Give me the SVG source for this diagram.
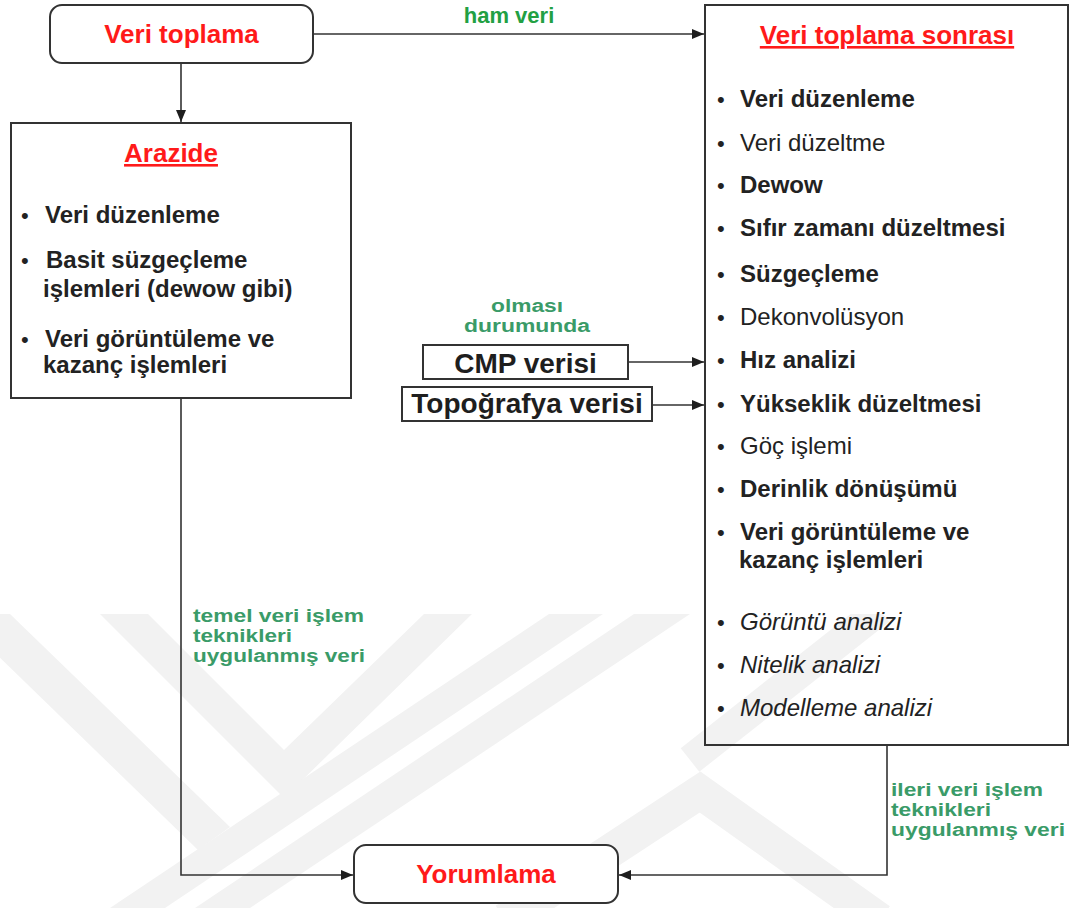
<svg xmlns="http://www.w3.org/2000/svg" width="1072" height="908" viewBox="0 0 1072 908">
<style>
.box{fill:none;stroke:#333;stroke-width:2}
.rbox{fill:#fff;stroke:#333;stroke-width:2}
.con{fill:none;stroke:#333;stroke-width:1.6}
.title{font-family:"Liberation Sans",Arial,sans-serif;font-weight:bold;font-size:26px;fill:#ff1a1a}
.b{font-family:"Liberation Sans",Arial,sans-serif;font-weight:bold;font-size:24px;fill:#222}
.r{font-family:"Liberation Sans",Arial,sans-serif;font-size:24px;fill:#222}
.i{font-family:"Liberation Sans",Arial,sans-serif;font-style:italic;font-size:24px;fill:#222}
.dot{font-family:"Liberation Sans",Arial,sans-serif;font-size:22px;fill:#222}
.g{font-family:"Liberation Sans",Arial,sans-serif;font-weight:bold;font-size:17.5px;fill:#3a9b68}
.big{font-family:"Liberation Sans",Arial,sans-serif;font-weight:bold;font-size:28px;fill:#1e1e1e}
.wm{fill:#f2f2f2}
</style>
<defs>
<marker id="arr" markerWidth="12" markerHeight="10" refX="12" refY="5" orient="auto" markerUnits="userSpaceOnUse">
<path d="M0,0 L12,5 L0,10 z" fill="#1e1e1e"/>
</marker>
<clipPath id="wmclip"><rect x="0" y="614" width="1072" height="294"/></clipPath>
</defs>
<rect x="0" y="0" width="1072" height="908" fill="#fff"/>
<g id="watermark" clip-path="url(#wmclip)">
<polygon class="wm" points="-45,614 10,614 230,827 198,850"/>
<polygon class="wm" points="100,614 148,614 284,750 424,614 472,614 284,798"/>
<polygon class="wm" points="549,614 603,614 165,908 110,908"/>
<polygon class="wm" points="634,614 690,614 250,908 195,908"/>
<polyline points="505,920 700,792 880,920" fill="none" stroke="#f2f2f2" stroke-width="34"/>
<line x1="690" y1="760" x2="880" y2="610" stroke="#f2f2f2" stroke-width="30"/>
</g>
<g id="connectors">
<line class="con" x1="181" y1="63" x2="181" y2="122" marker-end="url(#arr)"/>
<line class="con" x1="313" y1="34" x2="704" y2="34" marker-end="url(#arr)"/>
<line class="con" x1="628" y1="362" x2="704" y2="362" marker-end="url(#arr)"/>
<line class="con" x1="652" y1="405" x2="704" y2="405" marker-end="url(#arr)"/>
<polyline class="con" points="181,398 181,875 353,875" marker-end="url(#arr)"/>
<polyline class="con" points="887,745 887,875 619,875" marker-end="url(#arr)"/>
<text class="g" x="509" y="23" text-anchor="middle" style="font-size:22px;fill:#22a043">ham veri</text>
<text class="g" x="527" y="312" text-anchor="middle" textLength="72" lengthAdjust="spacingAndGlyphs">olması</text>
<text class="g" x="527" y="332" text-anchor="middle" textLength="126" lengthAdjust="spacingAndGlyphs">durumunda</text>
<text class="g" x="193" y="622" textLength="171" lengthAdjust="spacingAndGlyphs">temel veri işlem</text>
<text class="g" x="193" y="642" textLength="99" lengthAdjust="spacingAndGlyphs">teknikleri</text>
<text class="g" x="193" y="662" textLength="172" lengthAdjust="spacingAndGlyphs">uygulanmış veri</text>
<text class="g" x="891" y="796" textLength="152" lengthAdjust="spacingAndGlyphs">ileri veri işlem</text>
<text class="g" x="891" y="816" textLength="100" lengthAdjust="spacingAndGlyphs">teknikleri</text>
<text class="g" x="891" y="836" textLength="174" lengthAdjust="spacingAndGlyphs">uygulanmış veri</text>
</g>
<g id="veri-toplama">
<rect class="rbox" x="50" y="5" width="263" height="58" rx="12"/>
<text class="title" x="181.5" y="43" text-anchor="middle">Veri toplama</text>
</g>
<g id="arazide">
<rect class="box" x="11" y="123" width="340" height="275"/>
<text class="title" x="171" y="162" text-anchor="middle" text-decoration="underline">Arazide</text>
<text class="dot" x="21" y="223">•</text>
<text class="b" x="45" y="223">Veri düzenleme</text>
<text class="dot" x="21" y="268">•</text>
<text class="b" x="46" y="268">Basit süzgeçleme</text>
<text class="b" x="43" y="297">işlemleri (dewow gibi)</text>
<text class="dot" x="21" y="347">•</text>
<text class="b" x="45" y="347">Veri görüntüleme ve</text>
<text class="b" x="43" y="373">kazanç işlemleri</text>
</g>
<g id="veri-toplama-sonrasi">
<rect class="box" x="705" y="5" width="363" height="740"/>
<text class="title" x="887" y="44" text-anchor="middle" text-decoration="underline">Veri toplama sonrası</text>
<text class="dot" x="717" y="107">•</text><text class="b" x="740" y="107">Veri düzenleme</text>
<text class="dot" x="717" y="151">•</text><text class="r" x="740" y="151">Veri düzeltme</text>
<text class="dot" x="717" y="193">•</text><text class="b" x="740" y="193">Dewow</text>
<text class="dot" x="717" y="236">•</text><text class="b" x="740" y="236">Sıfır zamanı düzeltmesi</text>
<text class="dot" x="717" y="282">•</text><text class="b" x="740" y="282">Süzgeçleme</text>
<text class="dot" x="717" y="325">•</text><text class="r" x="740" y="325">Dekonvolüsyon</text>
<text class="dot" x="717" y="368">•</text><text class="b" x="740" y="368">Hız analizi</text>
<text class="dot" x="717" y="412">•</text><text class="b" x="740" y="412">Yükseklik düzeltmesi</text>
<text class="dot" x="717" y="454">•</text><text class="r" x="740" y="454">Göç işlemi</text>
<text class="dot" x="717" y="497">•</text><text class="b" x="740" y="497">Derinlik dönüşümü</text>
<text class="dot" x="717" y="540">•</text><text class="b" x="740" y="540">Veri görüntüleme ve</text>
<text class="b" x="739" y="568">kazanç işlemleri</text>
<text class="dot" x="717" y="630">•</text><text class="i" x="740" y="630">Görüntü analizi</text>
<text class="dot" x="717" y="673">•</text><text class="i" x="740" y="673">Nitelik analizi</text>
<text class="dot" x="717" y="716">•</text><text class="i" x="740" y="716">Modelleme analizi</text>
</g>
<g id="cmp-verisi">
<rect class="rbox" x="423" y="345" width="205" height="34"/>
<text class="big" x="525.5" y="373" text-anchor="middle">CMP verisi</text>
</g>
<g id="topografya-verisi">
<rect class="rbox" x="402" y="387" width="250" height="34"/>
<text class="big" x="527" y="413" text-anchor="middle">Topoğrafya verisi</text>
</g>
<g id="yorumlama">
<rect class="rbox" x="354" y="845" width="264" height="58" rx="12"/>
<text class="title" x="486" y="883" text-anchor="middle">Yorumlama</text>
</g>
</svg>
